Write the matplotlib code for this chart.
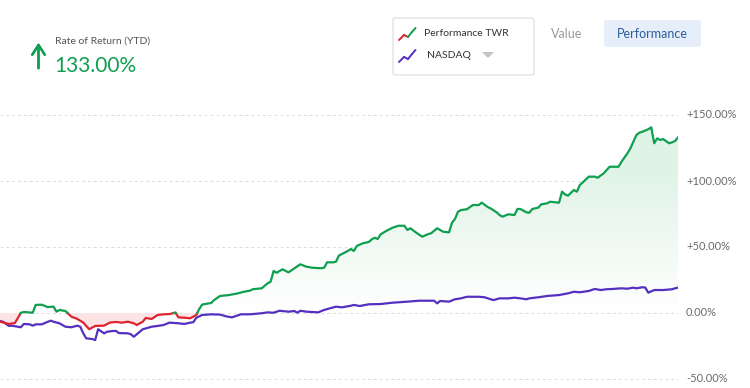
import matplotlib
matplotlib.use("Agg")
import matplotlib.pyplot as plt
import numpy as np
from matplotlib.colors import LinearSegmentedColormap
from matplotlib.patches import FancyBboxPatch
from matplotlib.lines import Line2D
from matplotlib.path import Path

plt.rcParams["font.family"] = ["Lato", "DejaVu Sans"]

# trading day of the year and cumulative return in percent
twr_days = [0, 3, 5, 7, 8, 11, 12, 14, 16, 18, 19, 20, 22, 24, 26, 28, 30, 32, 35, 37,
            39, 41, 43, 45, 46, 48, 49, 51, 53, 55, 57, 59, 60, 62, 64, 66, 67, 68, 71, 72,
            74, 77, 80, 82, 84, 85, 88, 90, 91, 92, 93, 95, 97, 99, 101, 103, 105, 108, 109, 110,
            112, 113, 114, 117, 118, 119, 120, 122, 124, 125, 126, 127, 128, 130, 132, 134, 136, 137, 138, 140,
            142, 144, 145, 147, 149, 151, 152, 153, 154, 155, 157, 159, 161, 162, 164, 165, 167, 168, 169, 171,
            173, 174, 175, 177, 178, 179, 181, 182, 184, 185, 188, 189, 190, 191, 192, 193, 194, 195, 196, 198,
            200, 201, 203, 205, 208, 209, 211, 212, 213, 214, 215, 216, 218, 219, 220, 221, 222, 223, 225, 226,
            227, 228]
twr_pct = [-6.6, -8.3, -7.6, 0.0, 0.8, 0.2, 6.1, 6.3, 4.5, 4.8, 1.0, 2.3, 1.5, -2.8, -4.5, -7.3, -12.3, -9.8, -9.6, -7.2,
           -6.8, -7.3, -6.6, -7.8, -9.1, -6.6, -3.8, -4.5, -1.5, -1.0, -0.8, 0.3, -3.3, -3.6, -4.0, -1.5, 3.0, 6.4, 7.6, 9.8,
           12.9, 13.6, 14.9, 16.1, 16.9, 18.0, 18.7, 22.5, 23.7, 31.8, 30.5, 33.1, 30.8, 33.9, 36.9, 35.1, 34.3, 33.9, 34.3, 38.4,
           38.4, 38.9, 43.6, 47.0, 48.5, 47.0, 50.8, 52.8, 53.8, 55.8, 57.0, 56.1, 59.6, 62.3, 64.6, 66.1, 66.1, 62.9, 64.2, 60.8,
           57.8, 59.8, 60.4, 64.2, 61.6, 61.1, 68.4, 71.2, 76.7, 78.0, 78.6, 81.8, 81.8, 83.6, 80.3, 79.2, 76.3, 74.2, 73.0, 74.8,
           74.2, 78.8, 78.8, 76.3, 76.0, 78.8, 79.8, 82.3, 83.1, 84.3, 83.6, 91.9, 89.9, 88.9, 91.1, 93.2, 91.9, 97.0, 99.0, 103.3,
           103.3, 102.5, 105.8, 110.8, 110.8, 114.6, 121.0, 124.8, 129.8, 134.8, 136.6, 137.3, 139.2, 140.7, 128.6, 132.3, 131.1, 131.8, 128.6, 129.3,
           130.3, 133.0]

nasdaq_days = [0, 1, 3, 4, 7, 8, 10, 11, 12, 14, 17, 18, 20, 22, 24, 26, 27, 28, 29, 31,
               32, 33, 35, 36, 38, 39, 40, 43, 44, 45, 46, 48, 51, 53, 55, 57, 60, 62, 64, 65,
               66, 68, 71, 74, 76, 78, 81, 84, 88, 90, 92, 94, 97, 99, 100, 101, 103, 107, 109, 111,
               113, 115, 118, 119, 121, 124, 128, 132, 137, 141, 146, 147, 148, 151, 153, 155, 157, 161, 163, 165,
               166, 168, 171, 173, 175, 177, 178, 181, 184, 188, 191, 193, 195, 198, 200, 202, 204, 206, 209, 211,
               213, 214, 216, 217, 218, 220, 221, 223, 226, 227, 228]
nasdaq_pct = [-6.1, -6.6, -9.8, -9.6, -10.8, -8.3, -8.6, -9.6, -8.6, -8.6, -5.8, -6.6, -7.8, -10.4, -10.8, -9.6, -10.4, -15.4, -19.2, -19.7,
              -20.5, -12.3, -15.4, -14.2, -13.6, -13.6, -15.2, -15.4, -16.1, -18.0, -16.1, -12.3, -10.4, -9.8, -9.1, -7.3, -7.8, -8.3, -7.3, -7.0,
              -3.6, -1.5, -1.0, -1.2, -2.5, -3.3, -1.0, -1.0, -0.2, 0.5, 0.2, 1.7, 1.0, 1.5, 0.2, 1.7, 1.0, 0.5, 2.3, 3.6,
              4.8, 4.3, 5.5, 6.1, 5.3, 6.6, 6.8, 7.8, 8.6, 9.3, 9.3, 7.3, 9.1, 8.6, 10.4, 11.1, 12.3, 12.3, 11.9, 10.4,
              9.8, 11.1, 11.1, 11.6, 11.1, 10.4, 11.1, 11.9, 12.9, 13.6, 14.9, 16.1, 15.7, 16.7, 18.2, 17.4, 18.0, 18.2, 18.7, 18.4,
              19.2, 18.7, 19.5, 19.3, 15.4, 17.4, 17.4, 17.4, 18.0, 18.7, 19.2]

y_ticks = [150, 100, 50, 0, -50]
y_tick_labels = ["+150.00%", "+100.00%", "+50.00%", "0.00%", "-50.00%"]
headline = "133.00%"

GREEN = "#0e9f4f"
RED = "#e0242f"
PURPLE = "#5530c0"
W, H = 750, 388


def px(x, y):
    return x / W, 1 - y / H


def split_by_sign(x, y):
    xs, ys = [x[0]], [y[0]]
    for i in range(1, len(x)):
        if (y[i - 1] < 0) != (y[i] < 0) and y[i - 1] != 0 and y[i] != 0:
            t = y[i - 1] / (y[i - 1] - y[i])
            xs.append(x[i - 1] + t * (x[i] - x[i - 1]))
            ys.append(0.0)
        xs.append(x[i])
        ys.append(y[i])
    xs, ys = np.array(xs, float), np.array(ys, float)
    return xs, ys, np.where(ys >= 0, ys, np.nan), np.where(ys <= 0, ys, np.nan)


fig = plt.figure(figsize=(7.5, 3.88), dpi=100)
ax = fig.add_axes([0, 0, 678 / W, (H - 95) / H])
ax.set_xlim(0, twr_days[-1])
ax.set_ylim((313 - 388) / 1.32, (313 - 95) / 1.32)

xs, ys, pos, neg = split_by_sign(twr_days, twr_pct)

# green gradient area above zero
area = ax.fill_between(xs, ys, 0, where=ys >= 0, interpolate=True,
                       facecolor="none", edgecolor="none")
cmap = LinearSegmentedColormap.from_list("g", ["#ffffff", "#e0f3e7"])
grad = np.linspace(0, 1, 256).reshape(-1, 1)
img = ax.imshow(grad, cmap=cmap, origin="lower", aspect="auto",
                extent=[0, twr_days[-1], 0, 110], zorder=1)
img.set_clip_path(Path.make_compound_path(*area.get_paths()), transform=ax.transData)
ax.fill_between(xs, ys, 110, where=ys >= 110, interpolate=True,
                facecolor="#e0f3e7", edgecolor="none", zorder=1)

# red area below zero
ax.fill_between(xs, ys, 0, where=ys <= 0, interpolate=True,
                facecolor="#fce3e4", edgecolor="none", zorder=1)

for t in y_ticks:
    ax.axhline(t, color="#dcdcdc", lw=0.7, ls=(0, (3, 3)), zorder=0.5)

ax.plot(nasdaq_days, nasdaq_pct, color=PURPLE, lw=1.6, zorder=3, solid_joinstyle="round")
ax.plot(xs, neg, color=RED, lw=1.6, zorder=4, solid_joinstyle="round")
ax.plot(xs, pos, color=GREEN, lw=1.6, zorder=4, solid_joinstyle="round")

ax.set_xticks([])
ax.set_yticks([])
for s in ax.spines.values():
    s.set_visible(False)

for t, lab in zip(y_ticks, y_tick_labels):
    ax.annotate(lab, xy=(1, t), xycoords=("axes fraction", "data"),
                xytext=(8, 0), textcoords="offset pixels",
                ha="left", va="center", fontsize=8, color="#6b6b6b",
                annotation_clip=False)

# header: rate of return
fig.add_artist(plt.annotate("", xy=px(38.5, 40), xytext=px(38.5, 71),
                            xycoords="figure fraction",
                            arrowprops=dict(arrowstyle="->,head_length=0.7,head_width=0.45",
                                            color=GREEN, lw=1.7)))
fig.text(*px(55, 41), "Rate of Return (YTD)", fontsize=7.5, color="#555555", va="center")
fig.text(*px(54, 66), headline, fontsize=15, color=GREEN, va="center")

# legend box
box = FancyBboxPatch(px(393, 75), 141 / W, 57 / H, transform=fig.transFigure,
                     boxstyle="round,pad=0,rounding_size=0.004",
                     facecolor="white", edgecolor="#dcdcdc", lw=0.8)
fig.add_artist(box)
icon_x = [399, 404, 408, 412, 415.5]
for ys_icon, cols in [([40, 35, 37, 32, 28], [RED, RED, GREEN, GREEN]),
                      ([62, 57, 59, 54, 50], [PURPLE] * 4)]:
    for i in range(4):
        a, b = px(icon_x[i], ys_icon[i]), px(icon_x[i + 1], ys_icon[i + 1])
        fig.add_artist(Line2D([a[0], b[0]], [a[1], b[1]], transform=fig.transFigure,
                              color=cols[i], lw=1.4, solid_capstyle="round"))
fig.text(*px(424, 33), "Performance TWR", fontsize=7.5, color="#333333", va="center")
fig.text(*px(427, 56), "NASDAQ", fontsize=7.5, color="#333333", va="center")
fig.add_artist(plt.Polygon([px(482, 52), px(494, 52), px(488, 58)], closed=True,
                           transform=fig.transFigure, facecolor="#c4c4c4", edgecolor="none"))

# view toggle
fig.text(*px(567, 34), "Value", fontsize=9, color="#9a9a9a", va="center", ha="center")
btn = FancyBboxPatch(px(604, 47), 97 / W, 27 / H, transform=fig.transFigure,
                     boxstyle="round,pad=0,rounding_size=0.006",
                     facecolor="#e6eef9", edgecolor="none")
fig.add_artist(btn)
fig.text(*px(652.5, 34), "Performance", fontsize=9, color="#2b5c9e", va="center", ha="center")

fig.savefig("out.png", dpi=100)
